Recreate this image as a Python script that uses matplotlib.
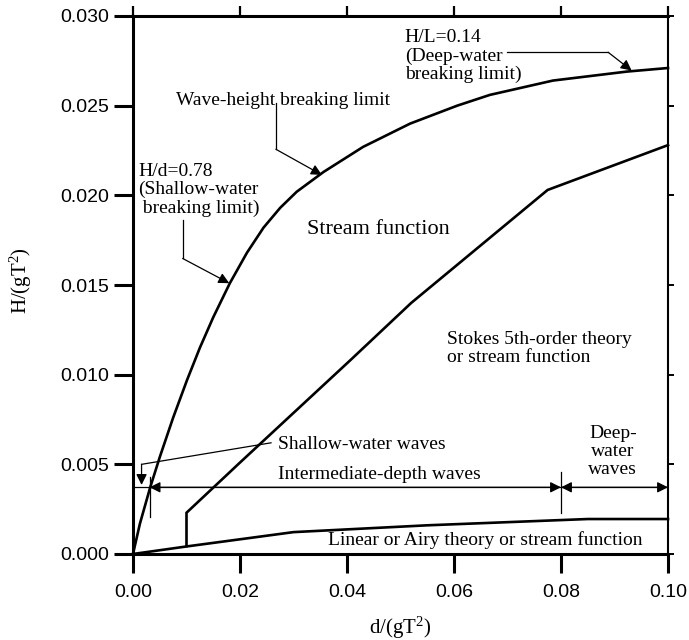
import matplotlib
matplotlib.use("Agg")
import matplotlib.pyplot as plt

# --- data ---
break_x = [0, 0.0013, 0.0032, 0.0050, 0.0075, 0.0101, 0.0125, 0.0150, 0.0181, 0.0213,
           0.0244, 0.0275, 0.0306, 0.0356, 0.0430, 0.0518, 0.0606, 0.0667, 0.0785,
           0.0923, 0.1]
break_y = [0, 0.0017, 0.0037, 0.0054, 0.0076, 0.0097, 0.0115, 0.0132, 0.0151, 0.0168,
           0.0182, 0.0193, 0.0202, 0.0213, 0.0227, 0.0240, 0.0250, 0.0256, 0.0264,
           0.0269, 0.0271]

stokes_x = [0.0100, 0.0100, 0.0200, 0.0406, 0.0520, 0.0775, 0.1]
stokes_y = [0.00045, 0.0023, 0.0051, 0.0108, 0.0140, 0.0203, 0.0228]

linear_x = [0, 0.01, 0.03, 0.055, 0.085, 0.1]
linear_y = [0, 0.00042, 0.00122, 0.0016, 0.00195, 0.00195]

depth_line_y = 0.00372
shallow_limit_x = 0.0031
deep_limit_x = 0.08

x_ticks = [0.00, 0.02, 0.04, 0.06, 0.08, 0.10]
x_tick_labels = ["0.00", "0.02", "0.04", "0.06", "0.08", "0.10"]
y_ticks = [0.000, 0.005, 0.010, 0.015, 0.020, 0.025, 0.030]
y_tick_labels = ["0.000", "0.005", "0.010", "0.015", "0.020", "0.025", "0.030"]

serif = ["Liberation Serif", "DejaVu Serif"]
sans = ["Liberation Sans", "DejaVu Sans"]

fig = plt.figure(figsize=(6.89, 6.40), dpi=100)
ax = fig.add_axes([133/689, 1-554/640, 535/689, 538/640])
ax.set_xlim(0, 0.1)
ax.set_ylim(0, 0.03)

lw_curve = 1.9
ax.plot(break_x, break_y, color="black", lw=lw_curve, solid_joinstyle="round", clip_on=False)
ax.plot(stokes_x, stokes_y, color="black", lw=lw_curve, solid_joinstyle="miter", clip_on=False)
ax.plot(linear_x, linear_y, color="black", lw=lw_curve, clip_on=False)

# depth classification dimension line
thin = 0.9
ax.plot([0, 0.1], [depth_line_y, depth_line_y], color="black", lw=thin)
ax.plot([shallow_limit_x, shallow_limit_x], [0.00206, 0.0043], color="black", lw=thin)
ax.plot([deep_limit_x, deep_limit_x], [0.00228, 0.00459], color="black", lw=thin)
ap = dict(arrowstyle="<|-|>", color="black", lw=thin, shrinkA=0, shrinkB=0,
          mutation_scale=16)
ax.annotate("", xy=(shallow_limit_x, depth_line_y), xytext=(deep_limit_x, depth_line_y),
            arrowprops=ap)
ax.annotate("", xy=(deep_limit_x, depth_line_y), xytext=(0.1, depth_line_y),
            arrowprops=ap)

ap1 = dict(arrowstyle="-|>", color="black", lw=thin, shrinkA=0, shrinkB=0, mutation_scale=16)

def leader(xs, ys):
    ax.plot(xs[:-1], ys[:-1], color="black", lw=thin)
    ax.annotate("", xy=(xs[-1], ys[-1]), xytext=(xs[-2], ys[-2]), arrowprops=ap1)

# Shallow-water waves leader
leader([0.0258, 0.0016, 0.0016], [0.0062, 0.0050, 0.00385])
# Wave-height breaking limit leader
leader([0.0267, 0.0267, 0.0353], [0.02515, 0.02257, 0.02114])
# H/d = 0.78 leader
leader([0.00928, 0.00928, 0.0180], [0.0186, 0.01648, 0.0151])
# H/L = 0.14 leader
leader([0.0699, 0.0888, 0.0932], [0.02798, 0.02798, 0.02696])

fs = 14
ls = 1.08
ax.text(0.0458, 0.01807, "Stream function", family=serif, fontsize=16, ha="center", va="center")
ax.text(0.0080, 0.0253, "Wave-height breaking limit", family=serif, fontsize=fs, ha="left", va="center")
ax.text(0.00095, 0.0203, "H/d=0.78\n(Shallow-water\n breaking limit)", family=serif, fontsize=fs,
        ha="left", va="center", linespacing=ls)
ax.text(0.0508, 0.02775, "H/L=0.14\n(Deep-water\nbreaking limit)", family=serif, fontsize=fs,
        ha="left", va="center", linespacing=ls)
ax.text(0.0586, 0.01145, "Stokes 5th-order theory\nor stream function", family=serif, fontsize=fs,
        ha="left", va="center", linespacing=ls)
ax.text(0.0271, 0.00613, "Shallow-water waves", family=serif, fontsize=fs, ha="left", va="center")
ax.text(0.0271, 0.00446, "Intermediate-depth waves", family=serif, fontsize=fs, ha="left", va="center")
ax.text(0.0897, 0.0057, "Deep-\nwater\nwaves", family=serif, fontsize=fs, ha="center", va="center",
        linespacing=ls)
ax.text(0.0658, 0.00078, "Linear or Airy theory or stream function", family=serif, fontsize=fs,
        ha="center", va="center")

# axes styling
for s in ["left", "bottom", "top"]:
    ax.spines[s].set_linewidth(2.2)
ax.spines["right"].set_linewidth(1.5)
ax.set_xticks(x_ticks)
ax.set_xticklabels(x_tick_labels, family=sans, fontsize=14)
ax.set_yticks(y_ticks)
ax.set_yticklabels(y_tick_labels, family=sans, fontsize=14)
ax.tick_params(axis="both", direction="out", length=13.5, width=2.2)
ax.tick_params(axis="x", pad=8)
ax.tick_params(axis="y", pad=4)

secx = ax.secondary_xaxis("top")
secx.set_xticks(x_ticks)
secx.set_xticklabels([])
secx.tick_params(direction="out", length=7, width=1.6)
secx.spines["top"].set_visible(False)
secy = ax.secondary_yaxis("right")
secy.set_yticks(y_ticks)
secy.set_yticklabels([])
secy.tick_params(direction="out", length=4, width=1.4)
secy.spines["right"].set_visible(False)

fig.text(400/689, 1-628/640, r"d/(gT$\mathregular{^2}$)", family=serif, fontsize=15,
         ha="center", va="center")
fig.text(21/689, 1-281/640, r"H/(gT$\mathregular{^2}$)", family=serif, fontsize=15,
         ha="center", va="center", rotation=90)

fig.savefig("out.png", dpi=100)
